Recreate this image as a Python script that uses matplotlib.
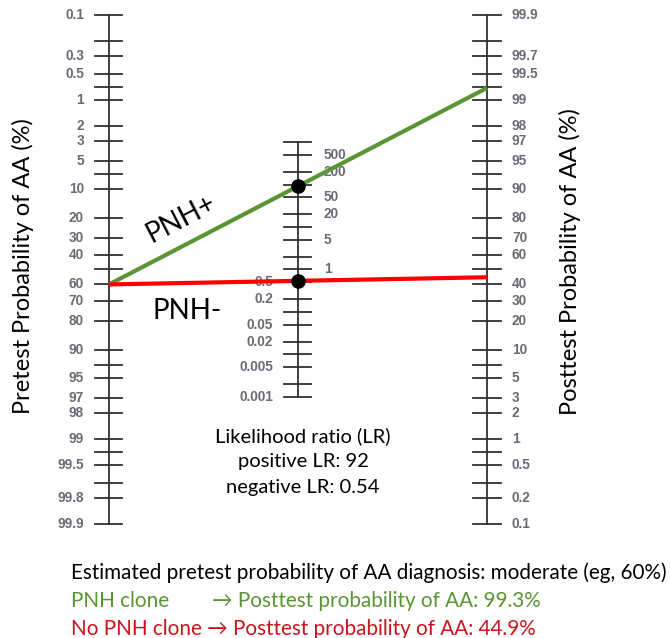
import numpy as np
import matplotlib
matplotlib.use("Agg")
import matplotlib.pyplot as plt
from matplotlib.transforms import Affine2D

# tick values (%) on the pretest / posttest scales
prob_ticks = [0.1, 0.2, 0.3, 0.5, 0.7, 1, 2, 3, 5, 7, 10, 20, 30, 40, 50, 60,
              70, 80, 90, 93, 95, 97, 98, 99, 99.3, 99.5, 99.7, 99.8, 99.9]
pre_labels = [0.1, 0.3, 0.5, 1, 2, 3, 5, 10, 20, 30, 40, 60, 70, 80, 90,
              95, 97, 98, 99, 99.5, 99.8, 99.9]
post_labels = [99.9, 99.7, 99.5, 99, 98, 97, 95, 90, 80, 70, 60, 40, 30, 20,
               10, 5, 3, 2, 1, 0.5, 0.2, 0.1]
# likelihood ratio scale
lr_ticks = [1000, 500, 200, 100, 50, 20, 10, 5, 2, 1, 0.5, 0.2, 0.1, 0.05,
            0.02, 0.01, 0.005, 0.002, 0.001]
lr_labels_right = [500, 200, 50, 20, 5, 1]
lr_labels_left = [0.5, 0.2, 0.05, 0.02, 0.005, 0.001]

pretest = 60
lr_pos = 92
lr_neg = 0.54
post_pos_txt = "99.3%"
post_neg_txt = "44.9%"

GREEN = "#5b9434"
RED = "#ff0000"
DKRED = "#c8141c"
AXC = "#303030"
LBL = "#454555"
FONT = ["Lato", "DejaVu Sans"]
TICKFS = 9.8


def logit(p):
    p = np.asarray(p, dtype=float) / 100.0
    return np.log(p / (1 - p))


def y_pre(p):
    return logit(p)


def y_post(p):
    return -logit(p)


def y_lr(lr):
    return -0.5 * np.log(np.asarray(lr, dtype=float))


def post_prob(pre, lr):
    odds = pre / (100 - pre) * lr
    return 100 * odds / (1 + odds)


fig = plt.figure(figsize=(6.7, 6.38), dpi=100)
ax = fig.add_axes([0, 0, 1, 1])
ax.set_xlim(-109 / 378, 561 / 378)
ax.set_ylim(10.0, -7.313)
ax.axis("off")
# pixel transform, origin top-left
tpx = Affine2D().scale(1 / 670, -1 / 638).translate(0, 1) + fig.transFigure

xl, xm, xr = 0.0, 0.5, 1.0
half = 13.5 / 378


def tick_label(x, y, v, ha):
    ax.text(x, y, f"{v:g}", fontsize=TICKFS, color=LBL, ha=ha, va="center",
            family="Liberation Sans", fontweight="bold", alpha=0.8)


# left and right axes
for x0, yfun, labels, side in [(xl, y_pre, pre_labels, -1),
                               (xr, y_post, post_labels, 1)]:
    yy = yfun(prob_ticks)
    ax.plot([x0, x0], [yy.min(), yy.max()], color=AXC, lw=1.3, zorder=2)
    for y in yy:
        ax.plot([x0 - half, x0 + half], [y, y], color=AXC, lw=1.3, zorder=2)
    for v in labels:
        tick_label(x0 + side * 25 / 378, yfun(v), v,
                   "right" if side < 0 else "left")

# middle LR axis
ym = y_lr(lr_ticks)
ax.plot([xm, xm], [ym.min(), ym.max()], color=AXC, lw=1.3, zorder=2)
for y in ym:
    ax.plot([xm - half, xm + half], [y, y], color=AXC, lw=1.3, zorder=2)
for v in lr_labels_right:
    tick_label(xm + 26 / 378, y_lr(v), v, "left")
for v in lr_labels_left:
    tick_label(xm - 25 / 378, y_lr(v), v, "right")

# lines through the nomogram
for lr, c in [(lr_pos, GREEN), (lr_neg, RED)]:
    q = post_prob(pretest, lr)
    ax.plot([xl, xr], [y_pre(pretest), y_post(q)], color=c, lw=3.0,
            solid_capstyle="butt", zorder=3)
    ax.plot([xm], [y_lr(lr)], "o", color="black", ms=9.5, zorder=4)

# line labels
q_pos = post_prob(pretest, lr_pos)
p1 = ax.transData.transform((xl, y_pre(pretest)))
p2 = ax.transData.transform((xr, y_post(q_pos)))
ang = np.degrees(np.arctan2(p2[1] - p1[1], p2[0] - p1[0]))
ax.text(181, 219, "PNH+", transform=tpx, fontsize=20, rotation=ang,
        rotation_mode="anchor", ha="center", va="center", family=FONT)
ax.text(187, 311, "PNH-", transform=tpx, fontsize=20, ha="center",
        va="center", family=FONT)

# axis titles
ax.text(23, 266, "Pretest Probability of AA (%)", transform=tpx, fontsize=17,
        rotation=90, ha="center", va="center", family=FONT)
ax.text(570, 262, "Posttest Probability of AA (%)", transform=tpx,
        fontsize=17, rotation=90, ha="center", va="center", family=FONT)

# LR info
for yy, s in [(436, "Likelihood ratio (LR)"),
              (462, f"positive LR: {lr_pos:g}"),
              (488, f"negative LR: {lr_neg:g}")]:
    ax.text(303, yy, s, transform=tpx, fontsize=14.5, ha="center",
            va="center", family=FONT)

# bottom summary
ax.text(71, 573, f"Estimated pretest probability of AA diagnosis: moderate (eg, {pretest}%)",
        transform=tpx, fontsize=14.9, ha="left", va="center", family=FONT)
ax.text(71, 601, "PNH clone", transform=tpx, fontsize=14.9, color=GREEN,
        ha="left", va="center", family=FONT)
ax.text(212, 601, f"\u2192 Posttest probability of AA: {post_pos_txt}",
        transform=tpx, fontsize=14.9, color=GREEN, ha="left", va="center",
        family=FONT)
ax.text(71, 629, f"No PNH clone \u2192 Posttest probability of AA: {post_neg_txt}",
        transform=tpx, fontsize=14.9, color=DKRED, ha="left", va="center",
        family=FONT)

fig.savefig("out.png", dpi=100)
